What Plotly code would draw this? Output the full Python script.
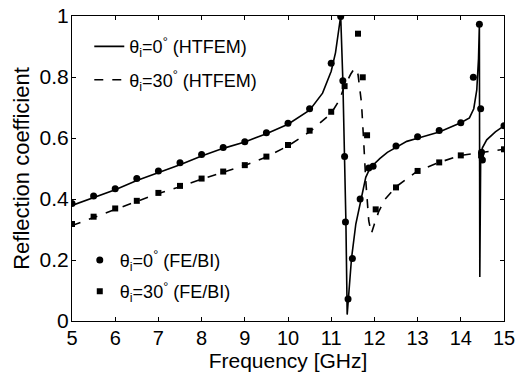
import plotly.graph_objects as go

# HTFEM curves
f_htfem0 = [5.0, 5.5, 6.0, 6.5, 7.0, 7.5, 8.0, 8.5, 9.0, 9.5, 10.0, 10.5, 10.8, 11.0, 11.1, 11.17, 11.22,
            11.27, 11.31, 11.34, 11.37, 11.40, 11.47, 11.57, 11.67, 11.8, 11.9, 12.0, 12.13, 12.3, 12.5,
            12.75, 13.0, 13.5, 14.0, 14.2, 14.3, 14.37, 14.41, 14.43, 14.44, 14.46, 14.5, 14.6, 14.8, 15.0]
r_htfem0 = [0.379, 0.405, 0.430, 0.461, 0.487, 0.512, 0.541, 0.566, 0.587, 0.614, 0.645, 0.691, 0.747, 0.819,
            0.880, 0.952, 1.0, 0.788, 0.543, 0.328, 0.021, 0.083, 0.205, 0.318, 0.390, 0.471, 0.502, 0.517,
            0.533, 0.553, 0.568, 0.589, 0.599, 0.620, 0.650, 0.666, 0.696, 0.758, 0.860, 0.973, 0.144, 0.533,
            0.568, 0.594, 0.620, 0.640]

f_htfem30 = [5.0, 5.5, 6.0, 6.5, 7.0, 7.5, 8.0, 8.5, 9.0, 9.5, 10.0, 10.5, 11.0, 11.2, 11.3, 11.45, 11.54,
             11.62, 11.7, 11.75, 11.8, 11.87, 11.93, 12.0, 12.1, 12.25, 12.5, 13.0, 13.5, 14.0, 14.3, 14.5, 15.0]
r_htfem30 = [0.313, 0.340, 0.367, 0.392, 0.418, 0.440, 0.465, 0.488, 0.510, 0.538, 0.574, 0.620, 0.681, 0.727,
             0.768, 0.809, 0.829, 0.809, 0.717, 0.594, 0.461, 0.328, 0.287, 0.318, 0.359, 0.400, 0.440, 0.492,
             0.520, 0.543, 0.549, 0.553, 0.563]

# FE/BI points
f_febi0 = [5.0, 5.5, 6.0, 6.5, 7.0, 7.5, 8.0, 8.5, 9.0, 9.5, 10.0, 10.5, 11.0, 11.22, 11.27, 11.31, 11.33,
           11.39, 11.49, 11.67, 11.87, 11.97, 12.5, 13.0, 13.5, 14.0, 14.29, 14.43, 14.46, 14.48, 14.5, 15.0]
r_febi0 = [0.385, 0.410, 0.434, 0.467, 0.492, 0.519, 0.546, 0.569, 0.588, 0.617, 0.648, 0.696, 0.845, 0.998,
           0.788, 0.539, 0.325, 0.072, 0.205, 0.400, 0.502, 0.507, 0.574, 0.604, 0.625, 0.650, 0.799, 0.973,
           0.696, 0.553, 0.528, 0.640]

f_febi30 = [5.0, 5.5, 6.0, 6.5, 7.0, 7.5, 8.0, 8.5, 9.0, 9.5, 10.0, 10.5, 11.0, 11.31, 11.62, 11.73, 11.83,
            12.03, 12.5, 13.0, 13.5, 14.0, 14.47, 15.0]
r_febi30 = [0.318, 0.342, 0.369, 0.394, 0.420, 0.443, 0.467, 0.490, 0.511, 0.539, 0.577, 0.624, 0.686, 0.770,
            0.942, 0.799, 0.609, 0.366, 0.438, 0.492, 0.520, 0.543, 0.543, 0.563]

x_ticks = [5, 6, 7, 8, 9, 10, 11, 12, 13, 14, 15]
y_ticks = [0, 0.2, 0.4, 0.6, 0.8, 1]
y_tick_labels = ["0", "0.2", "0.4", "0.6", "0.8", "1"]

FONT = "Liberation Sans, Arial, sans-serif"

fig = go.Figure()
fig.add_trace(go.Scatter(x=f_htfem0, y=r_htfem0, mode="lines",
                         line=dict(color="black", width=1.6),
                         name="θ<sub>i</sub>=0<sup>°</sup> (HTFEM)", legend="legend", legendgroup="a"))
fig.add_trace(go.Scatter(x=f_htfem30, y=r_htfem30, mode="lines",
                         line=dict(color="black", width=1.6, dash="dash"),
                         name="θ<sub>i</sub>=30<sup>°</sup> (HTFEM)", legend="legend", legendgroup="b"))
fig.add_trace(go.Scatter(x=f_febi0, y=r_febi0, mode="markers",
                         marker=dict(color="black", size=7, symbol="circle"),
                         name="θ<sub>i</sub>=0<sup>°</sup> (FE/BI)", legend="legend2", legendgroup="c"))
fig.add_trace(go.Scatter(x=f_febi30, y=r_febi30, mode="markers",
                         marker=dict(color="black", size=6, symbol="square"),
                         name="θ<sub>i</sub>=30<sup>°</sup> (FE/BI)", legend="legend2", legendgroup="d"))

axis_common = dict(showline=True, linecolor="black", linewidth=1.2, mirror="ticks",
                   ticks="inside", ticklen=4, tickcolor="black", showgrid=False, zeroline=False,
                   automargin=False)

fig.update_layout(
    width=519, height=374,
    margin=dict(l=72, r=15, t=16, b=53),
    paper_bgcolor="white", plot_bgcolor="white",
    font=dict(family=FONT, color="black"),
    xaxis=dict(range=[5, 15], tickvals=x_ticks, ticklabelstandoff=-1, **axis_common,
               tickfont=dict(family=FONT, size=20, color="black"),
               title=dict(text="Frequency [GHz]", font=dict(family=FONT, size=21), standoff=3)),
    yaxis=dict(range=[0, 1], tickvals=y_ticks, ticktext=y_tick_labels, ticklabelstandoff=-2, **axis_common,
               tickfont=dict(family=FONT, size=21, color="black"),
               title=dict(text="Reflection coefficient", font=dict(family=FONT, size=22), standoff=3)),
    legend=dict(x=0.04, y=0.96, xanchor="left", yanchor="top", bgcolor="rgba(0,0,0,0)",
                font=dict(family=FONT, size=18), tracegroupgap=7, traceorder="grouped"),
    legend2=dict(x=0.018, y=0.26, xanchor="left", yanchor="top", bgcolor="rgba(0,0,0,0)",
                 font=dict(family=FONT, size=18), tracegroupgap=5, traceorder="grouped"),
    showlegend=True,
)

fig.write_html("out.html", config={"displayModeBar": False},
               post_script="document.body.style.margin='0';document.body.style.overflow='hidden';")
